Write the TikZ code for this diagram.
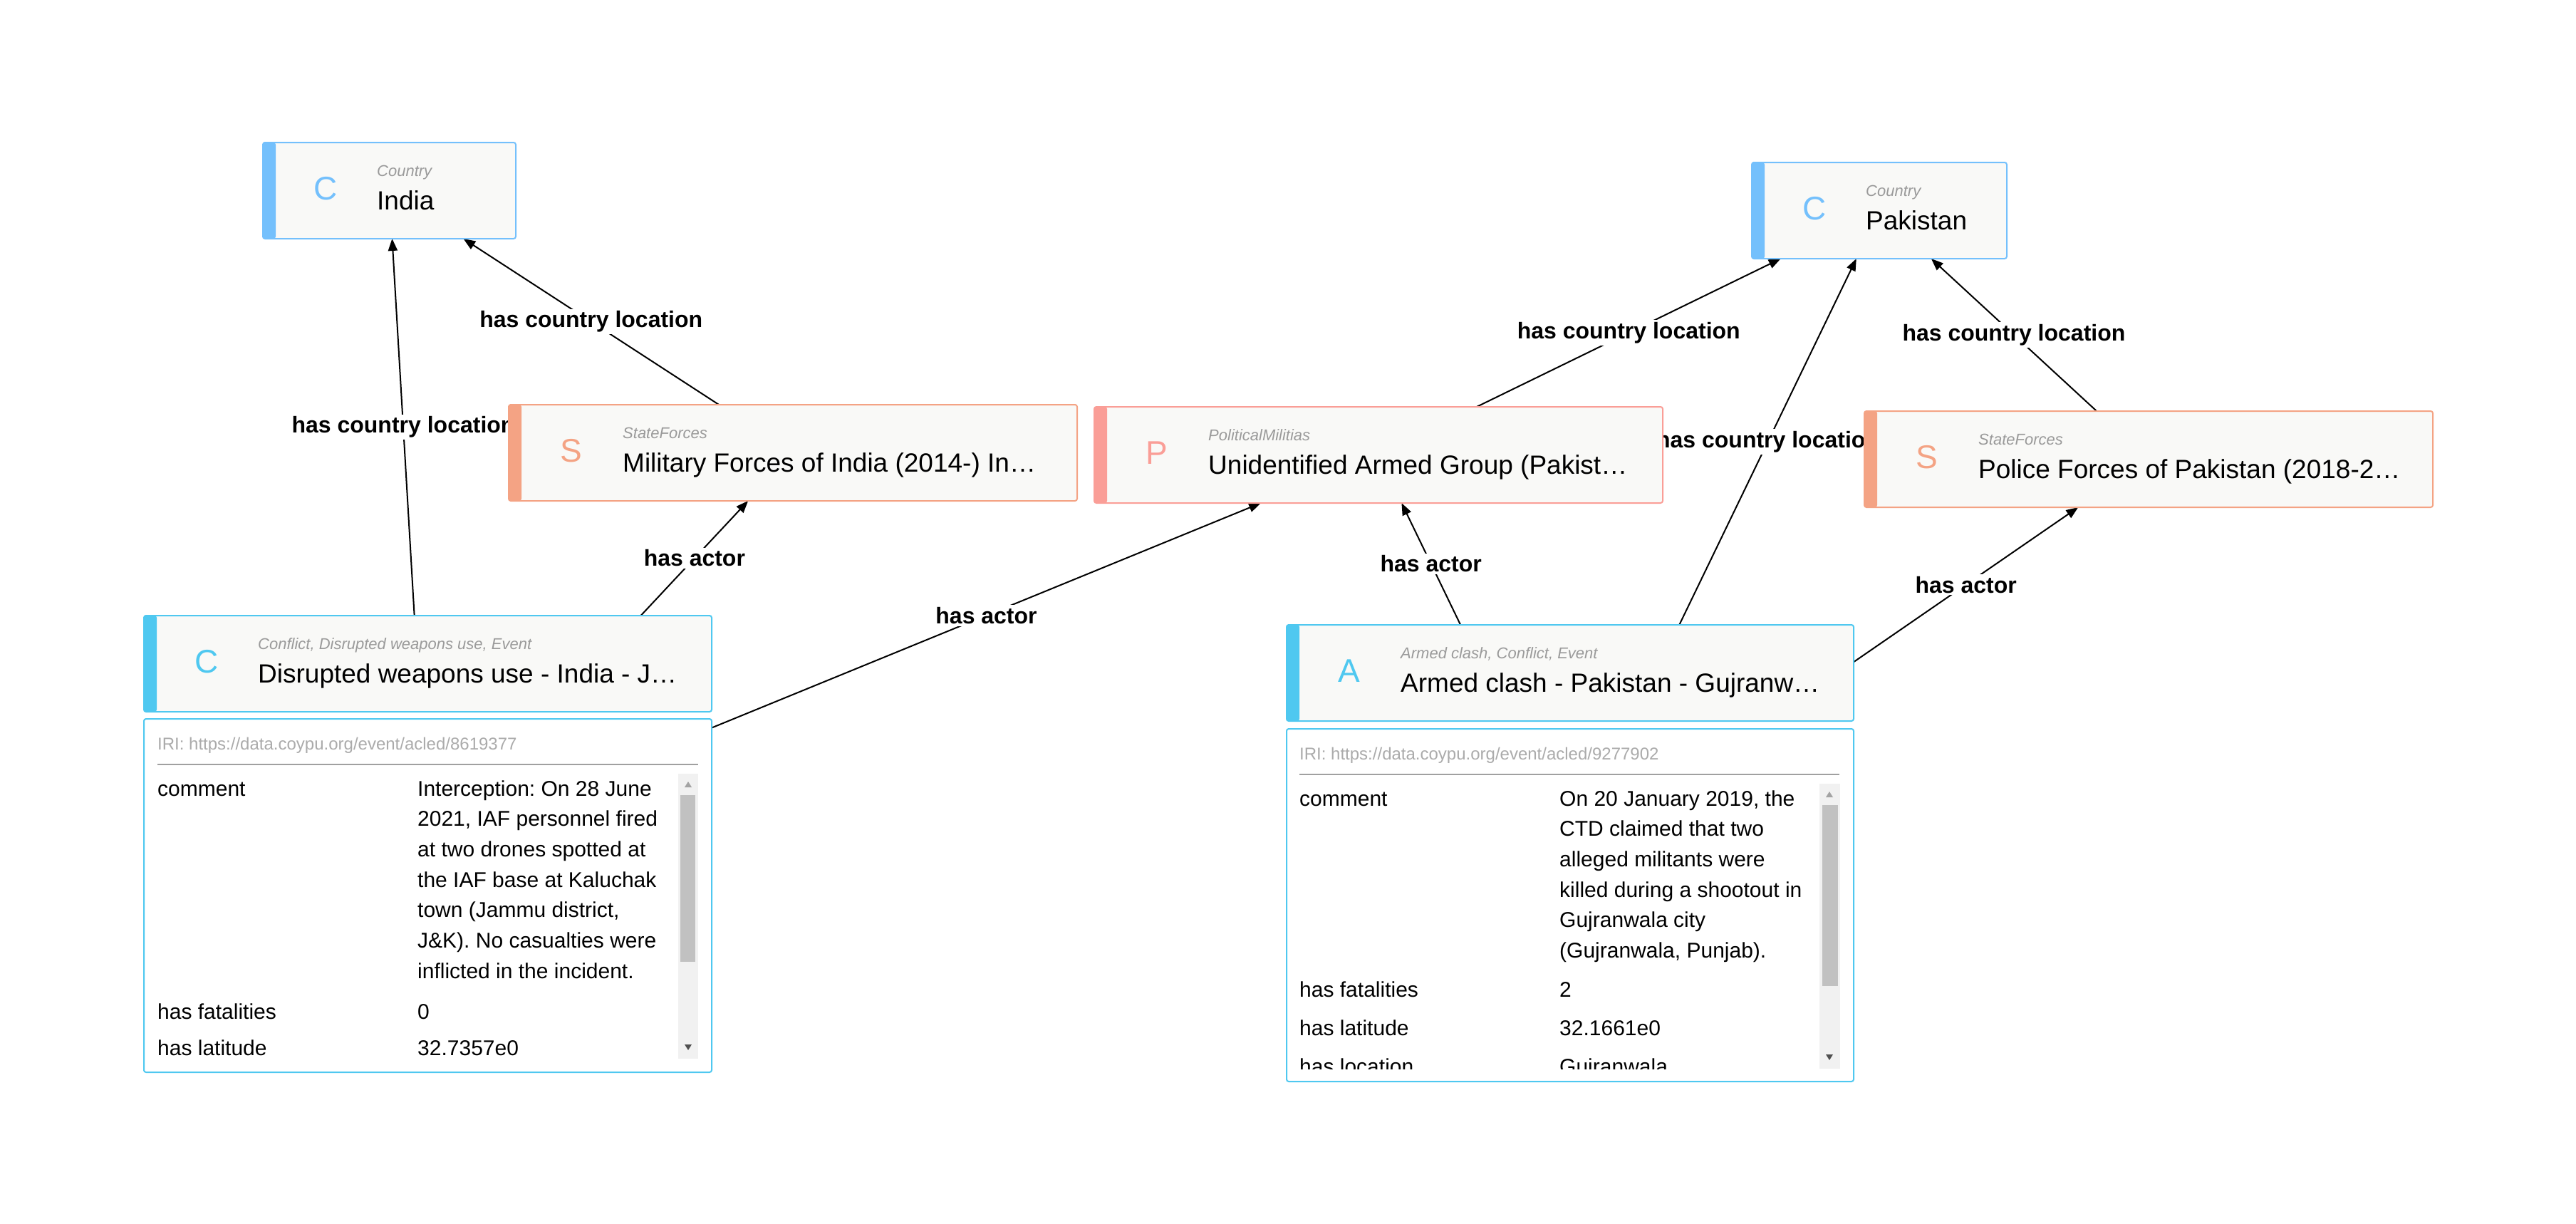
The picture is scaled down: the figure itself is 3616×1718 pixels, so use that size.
\documentclass[tikz,border=0pt]{standalone}
\usepackage{fontspec}
\setmainfont{Liberation Sans}
\usetikzlibrary{arrows.meta,fit}
\frenchspacing
\pgfdeclarelayer{bg}
\pgfdeclarelayer{edges}
\pgfsetlayers{bg,edges,main}
\definecolor{ctry}{HTML}{74C0FC}
\definecolor{evcol}{HTML}{4FC8F0}
\definecolor{stcol}{HTML}{F4A384}
\definecolor{pmcol}{HTML}{FA9E97}
\definecolor{boxfill}{HTML}{F9F9F7}
\definecolor{typegray}{HTML}{9A9A9A}
\definecolor{irigray}{HTML}{ABABAB}
\definecolor{sepgray}{HTML}{A0A0A0}
\definecolor{trackcol}{HTML}{F1F1F1}
\definecolor{thumbcol}{HTML}{C1C1C1}
\definecolor{arrlight}{HTML}{A3A3A3}
\definecolor{arrdark}{HTML}{505050}
\tikzset{
  ebox/.style={rectangle, rounded corners=3pt, fill=boxfill, line width=2pt, inner sep=0pt, outer sep=0pt, anchor=north west, minimum height=135pt},
  eicon/.style={font=\fontsize{46}{46}\selectfont, anchor=center, inner sep=0pt},
  etype/.style={font=\fontsize{22}{22}\selectfont\itshape, text=typegray, anchor=base west, inner sep=0pt},
  elabel/.style={font=\fontsize{37}{37}\selectfont, anchor=base west, inner sep=0pt},
  rel/.style={-{Triangle[length=17pt,width=13pt]}, line width=2pt},
  rlabel/.style={fill=white, font=\bfseries\fontsize{32}{32}\selectfont, inner sep=3pt},
  dpanel/.style={rectangle, rounded corners=3pt, fill=white, draw=evcol, line width=2pt, inner sep=0pt, outer sep=0pt, anchor=north west},
  dtext/.style={font=\fontsize{30}{30}\selectfont, anchor=base west, inner sep=0pt},
  iri/.style={font=\fontsize{24}{24}\selectfont, text=irigray, anchor=base west, inner sep=0pt},
  sepline/.style={draw=sepgray, line width=2.5pt},
}
% name, x, y, width, colour, icon, type, label
\newcommand\entitynode[8]{%
  \node[ebox, draw=#5, minimum width=#4pt,
        path picture={\fill[#5] (path picture bounding box.north west) rectangle ([xshift=18pt]path picture bounding box.south west);}]
        (#1) at (#2,#3) {};
  \node[eicon, text=#5] (#1-ic) at (#2+88,#3+65) {#6};
  \node[etype] (#1-ty) at (#2+160,#3+47) {#7};
  \node[elabel] (#1-lb) at (#2+160,#3+94) {#8};
}
\begin{document}
\begin{tikzpicture}[x=1pt,y=-1pt]
\begin{pgfonlayer}{bg}
  \fill[white] (0,0) rectangle (3616,1718);
\end{pgfonlayer}
\useasboundingbox (0,0) rectangle (3616,1718);

% entity boxes
\entitynode{india}{369}{200}{355}{ctry}{C}{Country}{India}
\entitynode{pak}{2459}{228}{358}{ctry}{C}{Country}{Pakistan}
\entitynode{mil}{714}{568}{798}{stcol}{S}{StateForces}{Military Forces of India (2014-) In…}
\entitynode{unid}{1536}{571}{798}{pmcol}{P}{PoliticalMilitias}{Unidentified Armed Group (Pakist…}
\entitynode{pol}{2617}{577}{798}{stcol}{S}{StateForces}{Police Forces of Pakistan (2018-2…}
\entitynode{dis}{202}{864}{797}{evcol}{C}{Conflict, Disrupted weapons use, Event}{Disrupted weapons use - India - J…}
\entitynode{arm}{1806}{877}{796}{evcol}{A}{Armed clash, Conflict, Event}{Armed clash - Pakistan - Gujranw…}

% detail panel: disrupted weapons use
\node[dpanel, minimum width=797pt, minimum height=496pt] (disd) at (202,1009) {};
\node[iri] (disd-iri) at (221,1052) {IRI: https://data.coypu.org/event/acled/8619377};
\draw[sepline] (221,1073) -- (980,1073);
\fill[trackcol] (952,1086) rectangle (980,1486);
\fill[thumbcol] (955,1116) rectangle (976,1350);
\fill[arrlight] (966,1097) -- (971,1105) -- (961,1105) -- cycle;
\fill[arrdark] (961,1466) -- (971,1466) -- (966,1474) -- cycle;
\node[dtext] (disd-k1) at (221,1117) {comment};
\node[dtext] (disd-v1a) at (586,1117) {Interception: On 28 June};
\node[dtext] (disd-v1b) at (586,1159.7) {2021, IAF personnel fired};
\node[dtext] (disd-v1c) at (586,1202.4) {at two drones spotted at};
\node[dtext] (disd-v1d) at (586,1245.1) {the IAF base at Kaluchak};
\node[dtext] (disd-v1e) at (586,1287.8) {town (Jammu district,};
\node[dtext] (disd-v1f) at (586,1330.5) {J\&K). No casualties were};
\node[dtext] (disd-v1g) at (586,1373.2) {inflicted in the incident.};
\node[dtext] (disd-k2) at (221,1430) {has fatalities};
\node[dtext] (disd-v2) at (586,1430) {0};
\node[dtext] (disd-k3) at (221,1481) {has latitude};
\node[dtext] (disd-v3) at (586,1481) {32.7357e0};

% detail panel: armed clash
\node[dpanel, minimum width=796pt, minimum height=495pt] (armd) at (1806,1023) {};
\node[iri] (armd-iri) at (1824,1066) {IRI: https://data.coypu.org/event/acled/9277902};
\draw[sepline] (1824,1087) -- (2582,1087);
\fill[trackcol] (2554,1100) rectangle (2583,1500);
\fill[thumbcol] (2558,1130) rectangle (2580,1384);
\fill[arrlight] (2568,1111) -- (2573,1119) -- (2563,1119) -- cycle;
\fill[arrdark] (2563,1480) -- (2573,1480) -- (2568,1488) -- cycle;
\node[dtext] (armd-k1) at (1824,1131) {comment};
\node[dtext] (armd-v1a) at (2189,1131) {On 20 January 2019, the};
\node[dtext] (armd-v1b) at (2189,1173.7) {CTD claimed that two};
\node[dtext] (armd-v1c) at (2189,1216.4) {alleged militants were};
\node[dtext] (armd-v1d) at (2189,1259.1) {killed during a shootout in};
\node[dtext] (armd-v1e) at (2189,1301.8) {Gujranwala city};
\node[dtext] (armd-v1f) at (2189,1344.5) {(Gujranwala, Punjab).};
\node[dtext] (armd-k2) at (1824,1399) {has fatalities};
\node[dtext] (armd-v2) at (2189,1399) {2};
\node[dtext] (armd-k3) at (1824,1453) {has latitude};
\node[dtext] (armd-v3) at (2189,1453) {32.1661e0};
\begin{scope}
  \clip (1806,1100) rectangle (2554,1500);
  \node[dtext] (armd-k4) at (1824,1507) {has location};
  \node[dtext] (armd-v4) at (2189,1507) {Gujranwala};
\end{scope}

% whole elements (box + panel)
\node[fit=(dis)(disd), inner sep=0pt, outer sep=0pt] (disall) {};
\node[fit=(arm)(armd), inner sep=0pt, outer sep=0pt] (armall) {};

% connectors
\begin{pgfonlayer}{edges}
\draw[rel] (disall) -- node[rlabel] (l1) {has country location} (india);
\draw[rel] (mil) -- node[rlabel] (l2) {has country location} (india);
\draw[rel] (disall) -- node[rlabel] (l3) {has actor} (mil);
\draw[rel] (disall) -- node[rlabel] (l4) {has actor} (unid);
\draw[rel] (armall) -- node[rlabel] (l5) {has actor} (unid);
\draw[rel] (armall) -- node[rlabel] (l6) {has country location} (pak);
\draw[rel] (unid) -- node[rlabel] (l7) {has country location} (pak);
\draw[rel] (pol) -- node[rlabel] (l8) {has country location} (pak);
\draw[rel] (armall) -- node[rlabel] (l9) {has actor} (pol);
\end{pgfonlayer}
\end{tikzpicture}
\end{document}
